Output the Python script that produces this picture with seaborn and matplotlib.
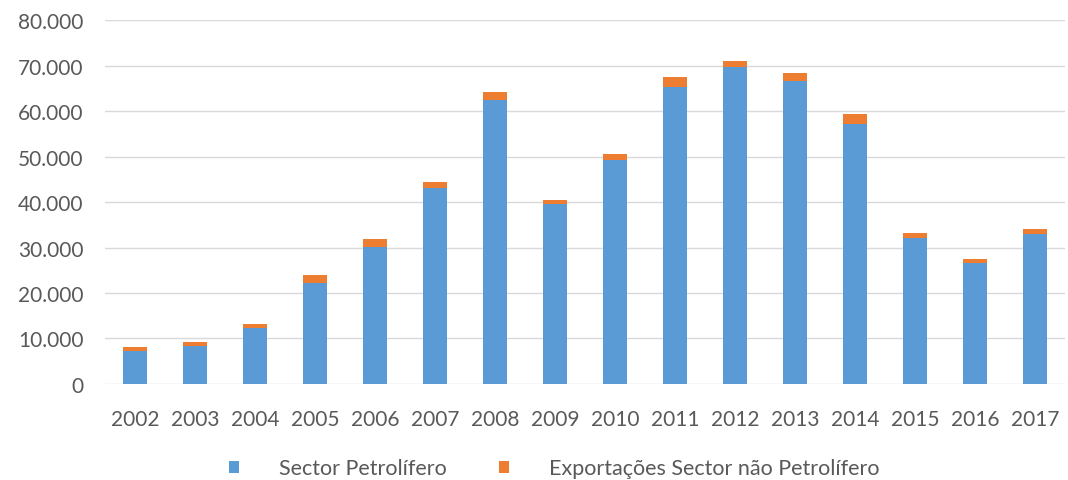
import matplotlib
matplotlib.use("Agg")
import matplotlib.pyplot as plt
import seaborn as sns
import pandas as pd
from matplotlib.patches import Patch
from matplotlib.ticker import FuncFormatter, MultipleLocator

years = ["2002", "2003", "2004", "2005", "2006", "2007", "2008", "2009",
         "2010", "2011", "2012", "2013", "2014", "2015", "2016", "2017"]
petrolifero = [7300, 8400, 12400, 22300, 30200, 43000, 62400, 39500,
               49300, 65200, 69600, 66500, 57100, 32000, 26500, 32900]
nao_petrolifero = [900, 800, 800, 1600, 1700, 1300, 1800, 1000,
                   1300, 2200, 1500, 1800, 2200, 1200, 900, 1200]
series_names = ["Sector Petrolífero", "Exportações Sector não Petrolífero"]

blue = "#5B9BD5"
orange = "#ED7D31"

df = pd.DataFrame({"ano": years, "petro": petrolifero, "nao": nao_petrolifero})
df["total"] = df["petro"] + df["nao"]

sns.set_theme(style="white")
plt.rcParams["font.family"] = ["Lato", "DejaVu Sans"]

fig = plt.figure(figsize=(10.68, 4.81), dpi=100)
ax = fig.add_axes([0.0983, 0.1996, 0.8987, 0.7567])

sns.barplot(data=df, x="ano", y="total", color=orange, width=0.4,
            saturation=1, ax=ax, edgecolor="none", linewidth=0)
sns.barplot(data=df, x="ano", y="petro", color=blue, width=0.4,
            saturation=1, ax=ax, edgecolor="none", linewidth=0)

ax.set_ylim(0, 80000)
ax.set_xlim(-0.5, len(years) - 0.5)
ax.yaxis.set_major_locator(MultipleLocator(10000))
ax.yaxis.set_major_formatter(FuncFormatter(lambda v, p: f"{int(v):,}".replace(",", ".")))
ax.grid(axis="y", color="#D9D9D9", linewidth=1)
ax.set_axisbelow(True)
for s in ax.spines.values():
    s.set_visible(False)
ax.set_xlabel("")
ax.set_ylabel("")
ax.tick_params(axis="both", length=0, labelsize=15, colors="#595959")
ax.tick_params(axis="y", pad=15.5)
ax.tick_params(axis="x", pad=18)

handles = [Patch(facecolor=blue, edgecolor="none"), Patch(facecolor=orange, edgecolor="none")]
fig.legend(handles, series_names, loc="center", bbox_to_anchor=(0.519, 0.024), ncol=2,
           frameon=False, handlelength=0.47, handleheight=0.47, handletextpad=1.86,
           columnspacing=2.4, fontsize=15.5, labelcolor="#595959")

fig.savefig("out.png", dpi=100)
